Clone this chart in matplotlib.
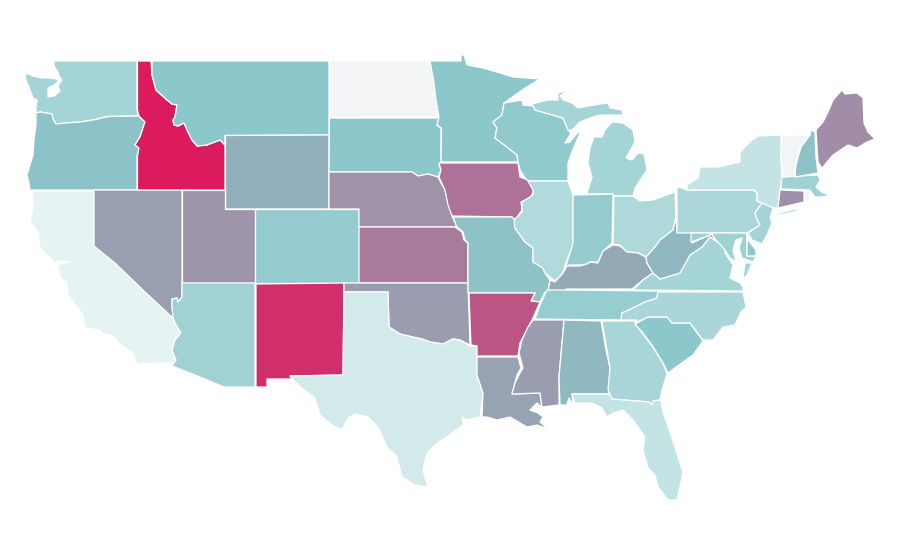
import matplotlib
matplotlib.use("Agg")
import matplotlib.pyplot as plt
from matplotlib.colors import LinearSegmentedColormap, Normalize

NO_DATA = float("nan")

# Choropleth value per state
values = {
    "WA": 39.5, "OR": 51.6, "CA": 11.3, "NV": 63, "ID": 99.7, "MT": 50, "WY": 57.7, "UT": 65.5,
    "AZ": 41.3, "CO": 47, "NM": 93.8, "ND": NO_DATA, "SD": 50, "NE": 66.3, "KS": 72.8, "OK": 63.3,
    "TX": 19, "MN": 50, "IA": 75, "MO": 52, "AR": 83.2, "LA": 61.6, "WI": 48.3, "IL": 34,
    "MI": 39.5, "IN": 47, "OH": 35.5, "KY": 60.3, "TN": 45.7, "MS": 63.5, "AL": 55.2, "GA": 38,
    "FL": 25.5, "SC": 50, "NC": 37, "VA": 39.5, "WV": 55.2, "PA": 36, "NY": 25.5, "MD": 41.8,
    "DE": 48.7, "NJ": 39.5, "CT": 67, "RI": NO_DATA, "MA": 41.3, "VT": NO_DATA, "NH": 51.6, "ME": 67.6,
}

# State outlines, in the map's projected plane
WA = [[(54,61),(137,61),(137,110),(139,116),(108,116.5),(93,120),(80,122),(65,123),(56,124),(53,119),(52,114),(40,112),(36,113),(36,108),(37,100),(33,98),(30,90),(26,80),(25,73),(33,76),(42,78),(50,78),(56,79),(59,81),(54,85),(48,88),(48,97),(54,96),(60,91),(58,86),(62,80),(59,76),(58,72),(54,66)]]
OR = [[(36,113),(40,112),(52,114),(53,119),(56,124),(65,123),(80,122),(93,120),(108,116.5),(139,116),(145,122),(143,128),(140,137),(135,145),(139,148),(137,156),(137,190),(30,190),(29,183),(27,175),(30,165),(33,155),(34,140),(36,125)]]
ID = [[(137.5,61),(151,61),(152,75),(156,90),(167,100),(172,104),(177,105),(175,117),(173,120),(174,125),(178,126),(184,123),(188,132),(192,140),(197,146),(207,145),(220,140),(225,145),(225,190),(137.5,190),(137.5,156),(139,148),(135,145),(140,137),(143,128),(145,122),(139,116),(137.5,110)]]
MT = [[(152,61),(329,61),(329,135),(225,135.5),(225,145),(220,140),(207,145),(197,146),(192,140),(188,132),(184,123),(178,126),(174,125),(173,120),(175,117),(177,105),(172,104),(167,100),(156,90),(152,75)]]
WY = [[(225.5,135.5),(329,135),(329,209),(225.5,209)]]
ND = [[(330,61),(430,61),(434,83),(436,100),(439,117),(330,117.5)]]
SD = [[(329.5,118),(439,118),(437,125),(441,128.5),(441,162),(439,165),(441,170),(438,177),(428,174),(418,176),(412,172),(329,172)]]
NE = [[(329,172),(412,172),(418,176),(428,174),(438,177),(441,183),(445,190),(449,205),(452,216),(457,227),(359,227),(359,209),(329,209)]]
MN = [[(430,61),(461,61),(461,55),(464,55),(467,65),(483,68),(500,73),(513,77),(540,79),(525,88),(504,103),(502,115),(493,122),(497,128),(495,138),(507,147),(517,155),(518,162),(441,162),(441.5,128),(437,125),(439,117),(436,100),(434,83)]]
WI = [[(504,103),(522,100),(523,105),(533,106),(535,110),(563,118),(568,130),(571,133),(565,143),(570,142),(578,132),(580,133),(572,152),(568,163),(568,181),(528,181),(525,178),(520,170),(518,162),(517,155),(507,147),(495,138),(497,128),(493,122),(502,115)]]
MI = [[(533,106),(532,104),(548,100),(558,100),(558,93),(568,90),(560,96),(563,100),(572,103),(578,108),(600,104),(608,103),(610,108),(622,110),(623,115),(613,115),(600,115),(590,118),(580,122),(572,130),(568,130),(563,118),(535,110)],
      [(612,122),(623,123),(633,130),(635,142),(626,158),(632,160),(638,153),(644,154),(647,170),(635,188),(633,196),(613,196),(613,194),(587,194),(588,190),(592,177),(588,163),(590,148),(594,137),(602,137),(605,130)],
      [(549,81),(556,78),(555,80),(550,82)]]
IL = [[(528,181),(568,181),(573,195),(573,243),(571,250),(565,265),(563,273),(555,281),(545,273),(543,268),(533,262),(533,248),(525,242),(515,228),(514,220),(522,212),(522,202),(533,195),(533,190)]]
IN = [[(573,195),(613,194),(612,243),(603,251),(598,262),(590,262),(587,264),(580,265),(570,265),(566,266),(571,250),(573,243)]]
OH = [[(614,196),(633,196),(640,201),(653,200),(675,192),(676,217),(673,230),(660,240),(655,247),(647,257),(638,253),(627,252),(620,245),(613,244)]]
KY = [[(613,245),(620,246),(627,252),(638,253),(646,257),(647,263),(653,273),(643,280),(632,289),(566,289),(565,292),(548,292),(550,280),(555,282),(563,273),(567,266),(580,266),(587,264),(590,262),(598,263),(603,251)]]
TN = [[(565,290),(658,291),(657,298),(645,302),(633,308),(622,313),(621,320),(535,319),(540,305),(547,290)]]
VA = [[(653,273),(660,279),(680,273),(690,255),(702,247),(710,237),(717,242),(725,245),(725,253),(733,265),(730,278),(740,283),(743,287),(743,291),(633,290),(643,280)],
      [(745,263),(752,263),(747,275),(743,279)]]
WV = [[(646,257),(655,247),(660,240),(673,230),(676,217),(677,232),(692,232),(692,243),(705,237),(712,234),(716,240),(710,237),(702,247),(690,255),(680,273),(660,279),(653,273),(647,263)]]
PA = [[(677,188),(680,187),(687,190),(753,190),(757,193),(757,201),(762,203),(755,213),(756,217),(760,225),(747,233),(677,233)]]
NY = [[(687,190),(687,185),(698,178),(700,167),(718,167),(740,162),(740,152),(752,140),(758,136),(781,135),(781,160),(782,177),(780,190),(778,208),(772,208),(762,203),(757,201),(757,193),(754,190)],
      [(773,215),(790,210),(802,208),(795,212),(780,215)]]
NJ = [[(762,203),(773,208),(770,218),(772,223),(767,235),(762,244),(752,240),(748,233),(760,225),(756,217),(755,213)]]
MD = [[(691,233),(747,233),(747,256),(756,256),(753,262),(742,258),(739,248),(742,238),(736,240),(733,250),(736,262),(730,258),(725,250),(716,240),(712,234),(705,237),(691,242)]]
DE = [[(747,233),(748,240),(756,250),(756,256),(747,256)]]
CT = [[(780,190),(804,191),(804,202),(778,208)]]
RI = [[(805,191),(809,191),(810,202),(805,202)]]
MA = [[(782,177),(818,175),(820,180),(816,187),(823,193),(830,195),(822,197),(815,197),(810,190),(781,189)]]
VT = [[(782,135),(809,135),(804,143),(800,147),(795,165),(795,176),(783,177),(781,160)]]
NH = [[(811,130),(815,132),(816,157),(818,173),(795,177),(796,165),(801,147),(810,135)]]
ME = [[(816,130),(823,122),(828,112),(833,100),(842,90),(845,94),(857,93),(863,98),(864,123),(868,132),(875,139),(867,142),(857,148),(848,145),(845,147),(833,155),(822,168),(818,162),(817,147)]]
NC = [[(658,292),(743,292),(746,307),(741,312),(735,325),(723,327),(713,340),(703,340),(690,323),(672,323),(667,317),(648,317),(635,323),(637,320),(621,320),(622,313),(633,308),(645,302),(657,298)]]
SC = [[(635,324),(648,317),(667,317),(672,323),(690,323),(703,341),(693,355),(683,362),(668,373),(663,363),(652,345),(643,333)]]
GA = [[(602,321),(635,321),(636,325),(643,334),(652,346),(663,363),(667,374),(662,390),(660,400),(653,401),(652,405),(649,402),(612,399),(608,390),(610,368),(607,350)]]
FL = [[(572,394),(609,394),(612,399),(649,402),(652,405),(653,401),(661,400),(663,412),(672,438),(678,457),(683,472),(680,487),(677,500),(668,500),(658,487),(655,475),(648,468),(643,450),(645,437),(633,420),(623,410),(613,413),(607,417),(602,408),(592,403),(575,403)]]
AL = [[(564,320),(601,321),(606,350),(610,368),(609,394),(572,394),(573,405),(569,398),(567,405),(560,405),(559,377),(562,343)]]
MS = [[(564,320),(562,343),(559,377),(559,405),(542,407),(540,393),(512,394),(515,383),(520,373),(523,368),(519,353),(522,340),(528,327),(533,320)]]
LA = [[(477,357),(518,357),(521,368),(517,375),(512,394),(540,393),(542,407),(537,403),(530,410),(538,413),(543,417),(540,422),(548,429),(537,425),(527,427),(510,417),(497,420),(487,417),(482,417),(483,393),(477,375)]]
AR = [[(469,293),(535,293),(531,301),(540,302),(533,318),(527,330),(520,343),(518,356),(477,356),(477,346),(471,345)]]
MO = [[(453,217),(512,217),(515,220),(515,228),(525,242),(533,248),(533,262),(543,268),(545,273),(550,280),(548,292),(545,292),(540,302),(531,301),(535,293),(468,293),(468,243),(465,240),(463,232),(457,227)]]
IA = [[(439,163),(518,163),(520,177),(528,180),(534,191),(530,198),(521,202),(522,210),(515,220),(512,217),(452,216),(448,205),(445,190),(439,177),(441,170)]]
KS = [[(359,227),(455,227),(462,232),(464,240),(468,243),(468,283),(359,283)]]
OK = [[(344,283),(468,283),(470,345),(460,340),(453,339),(443,344),(430,342),(422,339),(417,338),(400,334),(389,327),(388,292),(344,292)]]
TX = [[(344,292),(388,292),(389,327),(400,334),(417,338),(422,339),(430,342),(443,344),(453,339),(460,340),(470,346),(477,346),(477,375),(483,393),(480,417),(467,420),(462,417),(463,425),(447,437),(437,443),(428,452),(425,460),(423,470),(428,487),(415,485),(402,477),(397,457),(387,447),(378,427),(368,417),(355,414),(348,418),(342,430),(332,425),(320,415),(315,398),(300,387),(290,376),(343,375)]]
NM = [[(256,284),(344,283),(344,292),(343,375),(290,376),(292,379),(267,379),(267,387),(256,387)]]
AZ = [[(182,283),(255,283),(255,387),(224,387),(200,377),(172,366),(176,360),(172,350),(175,340),(181,333),(175,323),(173,317),(172,308),(172,299),(177,298),(178,302),(182,297)]]
NV = [[(94,190),(182,190),(182,297),(178,302),(177,298),(172,299),(172,308),(174,315),(173,318),(145,292),(115,263),(94,246)]]
UT = [[(182,190),(225,190),(225,209),(255,209),(255,283),(182,283)]]
CO = [[(255,209),(359,209),(359,283),(255,283)]]
CA = [[(32,191),(94,191),(94,246),(115,263),(145,292),(173,318),(175,323),(181,333),(175,340),(172,350),(176,360),(172,363),(157,363),(137,364),(133,353),(118,343),(115,337),(102,333),(100,330),(85,328),(83,315),(68,295),(67,283),(60,277),(57,265),(65,263),(71,262),(58,261),(55,263),(40,248),(38,232),(30,222),(33,207)]]

shapes = {"WA": WA, "OR": OR, "CA": CA, "NV": NV, "ID": ID, "MT": MT, "WY": WY, "UT": UT,
          "AZ": AZ, "CO": CO, "NM": NM, "ND": ND, "SD": SD, "NE": NE, "KS": KS, "OK": OK,
          "TX": TX, "MN": MN, "IA": IA, "MO": MO, "AR": AR, "LA": LA, "WI": WI, "IL": IL,
          "MI": MI, "IN": IN, "OH": OH, "KY": KY, "TN": TN, "MS": MS, "AL": AL, "GA": GA,
          "FL": FL, "SC": SC, "NC": NC, "VA": VA, "WV": WV, "PA": PA, "NY": NY, "MD": MD,
          "DE": DE, "NJ": NJ, "CT": CT, "RI": RI, "MA": MA, "VT": VT, "NH": NH, "ME": ME}

ramp = LinearSegmentedColormap.from_list(
    "ramp",
    [(0.0, "#ffffff"), (0.5, "#8cc8cb"), (0.6, "#94a9b7"), (0.75, "#ae7297"), (1.0, "#dc1a5e")],
    N=512,
)
ramp.set_bad("#f3f4f6")
norm = Normalize(0, 100)

fig = plt.figure(figsize=(9, 5.6), dpi=100, facecolor="white")
ax = fig.add_axes([0, 0, 1, 1])
ax.set_xlim(0, 900)
ax.set_ylim(560, 0)
ax.axis("off")

for code, rings in shapes.items():
    value = values[code]
    colour = ramp.get_bad() if value != value else ramp(norm(value))
    for ring in rings:
        xs, ys = zip(*ring)
        ax.fill(xs, ys, facecolor=colour, edgecolor="white", linewidth=0.9, joinstyle="round")

fig.savefig("out.png", dpi=100, facecolor="white")
